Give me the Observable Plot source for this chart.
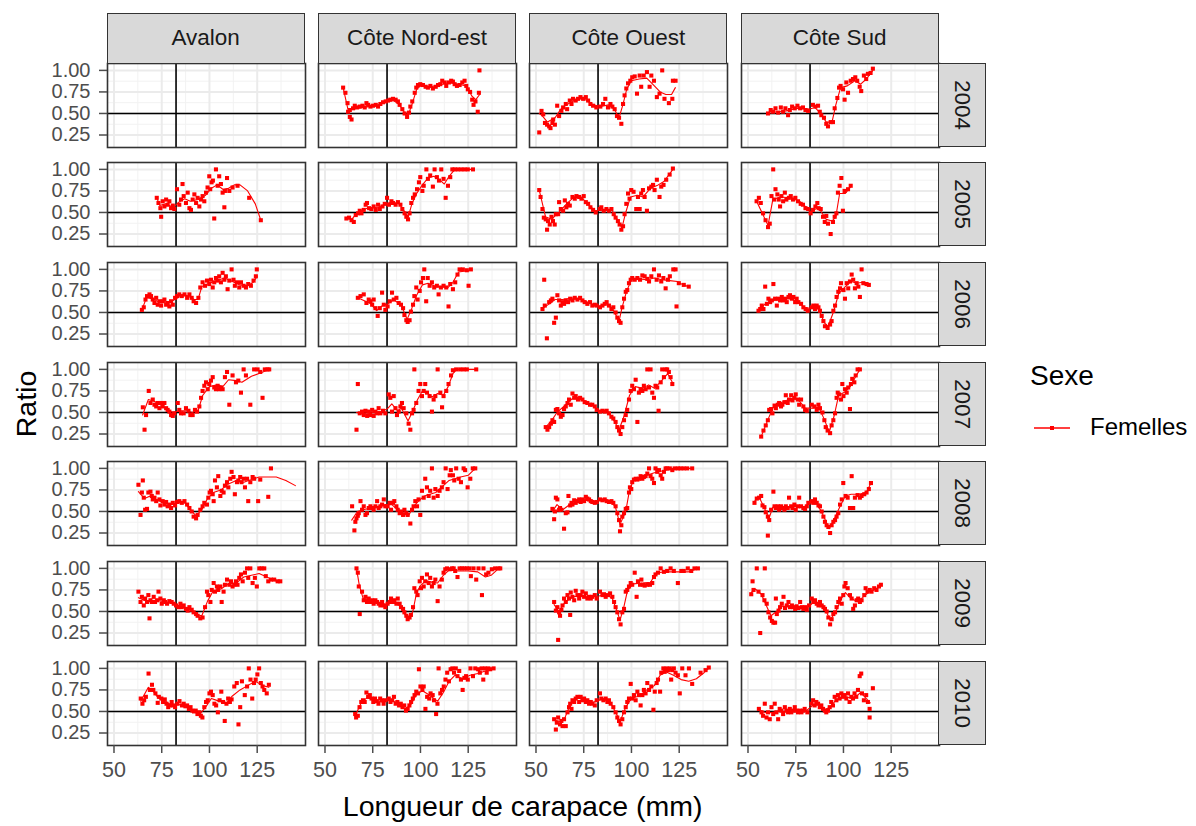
<!DOCTYPE html>
<html><head><meta charset="utf-8">
<script src="https://cdn.jsdelivr.net/npm/d3@7"></script>
<script src="https://cdn.jsdelivr.net/npm/@observablehq/plot@0.6"></script>
<style>
body{margin:0;background:#fff;font-family:"Liberation Sans",Arial,sans-serif;}
#chart{position:relative;width:1196px;height:826px;overflow:hidden;background:#fff;}
.panel{position:absolute;}
.strip{position:absolute;background:#d9d9d9;border:1.6px solid #333;box-sizing:border-box;display:flex;align-items:center;justify-content:center;color:#1a1a1a;font-size:22.5px;}
.vtext{transform:rotate(90deg);white-space:nowrap;}
.lbl{position:absolute;color:#000;white-space:nowrap;}
</style></head><body><div id="chart"></div>
<script>
const regions = ["Avalon","Côte Nord-est","Côte Ouest","Côte Sud"];
const years = [2004,2005,2006,2007,2008,2009,2010];
const xTicks = [50,75,100,125];
const yTicks = [0.25,0.5,0.75,1.0];
const xMinor = [62.5,87.5,112.5,137.5];
const yMinor = [0.375,0.625,0.875];
const refX = 82.5, refY = 0.5;
const xDomain = [46.6,150.3], yDomain = [0.105,1.08];
const seriesName = "Femelles", legendTitle = "Sexe";
const xTitle = "Longueur de carapace (mm)", yTitle = "Ratio";

// ---- Avalon ----
const av2004Pts = [], av2004Fit = [];
const av2005Pts = [[72.4,0.67],[73.3,0.61],[74.7,0.45],[74.3,0.55],[75.5,0.63],[76.4,0.57],[77.3,0.65],[78.1,0.59],[79,0.63],[79.9,0.55],[80.8,0.58],[81.6,0.54],[83,0.77],[84.2,0.59],[85.1,0.65],[85.9,0.83],[86.5,0.69],[87.7,0.61],[88.6,0.73],[89.5,0.55],[90.3,0.53],[91.2,0.65],[92.1,0.71],[93,0.61],[93.8,0.67],[94.7,0.57],[95.6,0.65],[96.4,0.69],[97.3,0.63],[98.2,0.73],[99,0.79],[99.9,0.92],[100.4,0.77],[101.1,0.85],[101.8,0.87],[102.5,0.43],[103.4,1.0],[104.3,0.81],[105.1,0.92],[106,0.83],[106.9,0.73],[107.8,0.56],[108.1,0.75],[109.2,0.9],[110.4,0.75],[112.1,0.79],[114.7,0.81],[120.8,0.67],[126.9,0.41]];
const av2005Fit = [[72.4,0.67],[74,0.58],[77,0.6],[81,0.56],[84,0.62],[87,0.66],[90,0.63],[94,0.65],[98,0.7],[101,0.78],[104,0.82],[107,0.77],[110,0.78],[113,0.82],[116,0.82],[120,0.75],[124,0.6],[126.9,0.41]];
const av2006Pts = [[64.6,0.53],[65.6,0.56],[66.5,0.65],[67.3,0.69],[68.6,0.71],[69.4,0.69],[70.3,0.65],[71.2,0.61],[72.1,0.67],[72.9,0.59],[73.8,0.63],[74.7,0.58],[75.5,0.63],[76.4,0.65],[77.3,0.59],[78.1,0.61],[79,0.57],[79.9,0.63],[80.8,0.59],[82,0.67],[83,0.69],[84.2,0.71],[85.5,0.69],[86.9,0.71],[88.3,0.67],[89.5,0.71],[90.7,0.67],[91.7,0.63],[93,0.61],[94.2,0.67],[95.2,0.79],[96.4,0.85],[97.7,0.81],[98.7,0.87],[99.9,0.83],[100.8,0.88],[101.7,0.79],[102.5,0.85],[103.4,0.9],[104.3,0.87],[105.1,0.92],[106,0.85],[106.9,0.96],[107.8,0.88],[108.6,0.92],[109.5,0.77],[110.4,0.87],[111.6,1.0],[112.6,0.88],[113.3,0.81],[114.4,0.85],[115.6,0.79],[116.5,0.85],[117.9,0.81],[119.1,0.79],[120.3,0.83],[121.7,0.81],[123.1,0.87],[124.3,0.92],[124.8,1.0]];
const av2006Fit = [[64.6,0.53],[67,0.67],[70,0.66],[74,0.62],[78,0.62],[81,0.64],[84,0.68],[88,0.7],[92,0.65],[94,0.65],[96,0.8],[100,0.84],[104,0.87],[108,0.9],[112,0.86],[116,0.82],[120,0.81],[123,0.85],[125,0.92]];
const av2007Pts = [[65.1,0.56],[66,0.3],[66.8,0.47],[68.2,0.75],[69.1,0.61],[70.3,0.65],[71.2,0.59],[72.1,0.57],[72.9,0.61],[73.8,0.55],[74.7,0.61],[75.5,0.57],[76.4,0.61],[77.3,0.55],[78.1,0.53],[79,0.51],[79.9,0.47],[80.8,0.46],[81.6,0.49],[83.4,0.61],[84.2,0.53],[85.1,0.49],[86.5,0.49],[87.7,0.55],[89,0.52],[90,0.47],[91.2,0.47],[92.4,0.53],[93.5,0.51],[94.7,0.57],[95.6,0.67],[96.4,0.75],[97.3,0.81],[98.2,0.85],[99.1,0.77],[99.9,0.83],[100.8,0.87],[101.7,0.91],[102.5,0.79],[103.4,0.77],[104.3,0.81],[105.1,0.77],[106,0.79],[106.9,0.77],[108.1,0.91],[109.2,0.97],[110.4,0.59],[112.1,0.93],[113.9,0.85],[115.1,0.87],[116.5,0.73],[117.9,1.0],[119.1,0.93],[121.4,0.59],[123.4,1.0],[125.2,1.0],[126.6,0.97],[127.8,0.67],[129,1.0],[130.4,1.0],[131.3,1.0]];
const av2007Fit = [[65,0.47],[68,0.65],[71,0.63],[75,0.58],[79,0.52],[81,0.5],[84,0.52],[88,0.52],[91,0.5],[94,0.52],[96.5,0.7],[100,0.8],[104,0.82],[107,0.8],[110,0.88],[114,0.87],[117,0.85],[122,0.92],[127,0.96],[131.3,1.0]];
const av2008Pts = [[62.8,0.81],[63.9,0.46],[65.1,0.86],[64.6,0.72],[65.6,0.66],[66.3,0.52],[67.3,0.53],[68,0.72],[69.1,0.73],[69.8,0.68],[70.3,0.64],[71.2,0.66],[72.1,0.62],[72.9,0.72],[73.8,0.64],[74.3,0.57],[75.5,0.62],[76.4,0.58],[77.3,0.61],[78.1,0.56],[79,0.58],[79.9,0.54],[80.8,0.6],[82,0.57],[83,0.61],[84.2,0.62],[85.5,0.6],[86.9,0.62],[88.3,0.58],[89.5,0.54],[90.7,0.5],[91.7,0.44],[93,0.42],[93.8,0.46],[95.2,0.52],[96.4,0.56],[97.3,0.6],[98.7,0.58],[99.4,0.66],[100.1,0.72],[100.8,0.74],[101.7,0.7],[102.2,0.62],[102.9,0.86],[103.9,0.78],[104.6,0.91],[105.7,0.68],[106.4,0.74],[107.4,0.72],[108.1,0.8],[109.2,0.84],[109.9,0.78],[110.9,0.88],[111.6,0.96],[112.6,0.9],[113.3,0.7],[114.4,0.84],[115.1,0.86],[116.1,0.9],[116.8,0.84],[117.9,0.88],[118.6,0.78],[119.7,0.88],[120.3,0.62],[121.4,0.84],[122.6,0.9],[123.4,0.88],[125.5,0.62],[126.6,0.87],[130.8,0.67],[132.2,1.0]];
const av2008Fit = [[62.8,0.73],[66,0.65],[69,0.68],[72,0.64],[76,0.6],[80,0.58],[84,0.6],[87,0.6],[90,0.52],[93,0.45],[96,0.52],[99,0.65],[102,0.72],[106,0.75],[110,0.82],[114,0.86],[118,0.84],[122,0.87],[126,0.9],[130,0.9],[135,0.9],[140,0.86],[145,0.8]];
const av2009Pts = [[62.8,0.73],[63.9,0.61],[64.6,0.67],[65.6,0.57],[66.3,0.65],[67.3,0.61],[68.6,0.42],[68,0.69],[69.1,0.63],[69.8,0.61],[70.8,0.67],[71.5,0.61],[72.6,0.63],[73.3,0.73],[74.3,0.65],[75,0.59],[76.1,0.63],[76.8,0.61],[77.8,0.59],[79,0.62],[80.2,0.61],[81.3,0.59],[82.5,0.57],[83.7,0.55],[84.8,0.59],[85.5,0.55],[86.5,0.57],[87.7,0.53],[88.6,0.51],[89.5,0.55],[90.7,0.52],[91.7,0.49],[93,0.47],[93.8,0.45],[95.2,0.42],[96.4,0.43],[97.7,0.55],[98.7,0.73],[99.4,0.69],[100.5,0.61],[101.2,0.75],[102.2,0.83],[102.9,0.73],[103.9,0.79],[104.6,0.75],[105.7,0.79],[106.4,0.61],[107.4,0.73],[108.1,0.81],[109.2,0.87],[110.4,0.81],[111.3,0.85],[112.1,0.79],[113,0.81],[113.9,0.85],[114.7,0.81],[115.6,0.89],[116.5,0.93],[117.4,0.85],[118.6,0.95],[119.7,1.0],[120.3,0.89],[121.4,1.0],[122.6,0.83],[123.8,0.89],[124.8,0.79],[126.1,1.0],[127.3,1.0],[128.7,1.0],[129.5,0.91],[130.8,0.85],[132.2,0.87],[133.9,0.87],[135.7,0.85],[137.1,0.85]];
const av2009Fit = [[62.8,0.66],[67,0.62],[72,0.63],[77,0.61],[82,0.58],[86,0.55],[90,0.52],[94,0.46],[96,0.45],[99,0.62],[102,0.74],[106,0.76],[110,0.82],[114,0.83],[118,0.9],[122,0.92],[126,0.94],[130,0.9],[134,0.86],[137.1,0.85]];
const av2010Pts = [[64,0.65],[64.9,0.59],[65.8,0.63],[66.7,0.67],[68.1,0.94],[68.8,0.75],[69.9,0.81],[70.6,0.75],[71.7,0.71],[72.9,0.6],[73.5,0.67],[74.8,0.65],[75.7,0.61],[76.6,0.64],[77.5,0.59],[78.4,0.55],[79.3,0.57],[80.2,0.61],[81.1,0.57],[82,0.55],[83.2,0.59],[84.3,0.62],[85.6,0.57],[86.5,0.59],[87.4,0.56],[88.3,0.57],[89.2,0.53],[90.1,0.55],[91,0.51],[91.9,0.5],[92.8,0.51],[93.7,0.47],[94.6,0.49],[95.5,0.45],[96.3,0.43],[97.3,0.55],[98.2,0.61],[99.1,0.63],[100,0.71],[100.8,0.73],[101.7,0.69],[102.6,0.59],[103.5,0.57],[104.4,0.49],[105.3,0.63],[106.2,0.73],[107.1,0.61],[108,0.39],[108.9,0.59],[109.8,0.65],[110.7,0.61],[111.6,0.64],[113,0.79],[114.3,0.83],[115.2,0.35],[116.1,0.55],[117,0.85],[118.5,0.69],[119.7,0.79],[120.6,1.0],[121.5,0.87],[122.4,0.65],[123.3,0.83],[124.2,0.87],[125.1,0.93],[126,1.0],[126.9,0.83],[127.8,0.79],[128.7,0.75],[130,0.71],[131.1,0.81]];
const av2010Fit = [[64,0.62],[68,0.78],[70,0.75],[73,0.66],[77,0.62],[80,0.57],[84,0.58],[88,0.56],[92,0.5],[95,0.47],[98,0.55],[101,0.65],[105,0.62],[109,0.6],[112,0.68],[116,0.75],[120,0.8],[124,0.85],[128,0.8],[131.1,0.78]];

// ---- Côte Nord-est ----
const ne2004Pts = [[59.5,0.8],[60.7,0.74],[61.8,0.62],[62.1,0.52],[63,0.46],[63.9,0.43],[63,0.54],[64.7,0.56],[65.6,0.59],[66.8,0.57],[68.2,0.58],[69.6,0.59],[70.8,0.57],[71.7,0.62],[72.6,0.6],[73.8,0.58],[75.2,0.59],[76.6,0.6],[77.8,0.58],[79,0.61],[80.4,0.63],[81.8,0.64],[83,0.65],[84.2,0.66],[85.6,0.67],[87,0.66],[88.2,0.64],[89.1,0.6],[90.5,0.55],[91.7,0.5],[93,0.46],[94,0.51],[94.7,0.58],[95.7,0.64],[97,0.74],[97.8,0.8],[98.7,0.83],[99.9,0.84],[101.3,0.83],[102.7,0.81],[103.9,0.8],[105.2,0.82],[106.5,0.79],[108,0.81],[109.2,0.83],[110.4,0.84],[111.4,0.88],[112.7,0.86],[113.5,0.82],[114.9,0.86],[116.1,0.88],[117,0.87],[117.9,0.84],[119.1,0.82],[120.5,0.83],[121.9,0.86],[123.1,0.88],[124,0.82],[124.8,0.78],[126,0.75],[127.1,0.66],[127.8,0.6],[128.8,0.64],[130,0.52],[130.9,1.0],[130.6,0.74]];
const ne2004Fit = [[59.5,0.8],[62,0.55],[64,0.55],[70,0.57],[77,0.59],[81,0.63],[86,0.65],[89,0.6],[92,0.5],[93.5,0.48],[95.5,0.6],[98,0.78],[100,0.82],[105,0.81],[110,0.83],[115,0.86],[120,0.84],[124,0.82],[127,0.7],[129,0.66],[131,0.72]];
const ne2005Pts = [[61.2,0.43],[62.6,0.44],[63.9,0.41],[65.1,0.39],[66.1,0.47],[67.3,0.49],[68.2,0.52],[69.1,0.49],[70.3,0.53],[71.3,0.59],[72,0.61],[73.1,0.55],[74.3,0.54],[75.5,0.57],[76.6,0.53],[77.8,0.59],[78.7,0.54],[80.1,0.57],[81.3,0.6],[82.5,0.67],[83.5,0.59],[84.8,0.63],[85.6,0.61],[87,0.59],[88.2,0.62],[89.5,0.59],[90.5,0.54],[91.7,0.49],[92.6,0.45],[93.5,0.42],[94.3,0.49],[95.2,0.61],[96.1,0.67],[97,0.71],[98.2,0.77],[99.2,0.85],[99.9,0.91],[101,0.75],[101.7,0.81],[103.1,1.0],[103.9,0.89],[105.1,0.93],[106.5,0.8],[107.4,1.0],[108.6,0.91],[109.7,0.87],[110.9,1.0],[112.1,0.89],[113.2,0.67],[114.4,0.81],[115.6,0.91],[116.7,1.0],[117.9,1.0],[119.6,1.0],[121.4,1.0],[123.1,1.0],[124.8,1.0],[127.5,1.0]];
const ne2005Fit = [[61,0.44],[64,0.42],[67,0.5],[72,0.55],[78,0.56],[82,0.6],[85,0.62],[89,0.6],[92,0.5],[93.5,0.44],[95.5,0.6],[98,0.72],[101,0.82],[104,0.9],[107,0.92],[110,0.88],[112.5,0.83],[115,0.92],[118,1.0],[127.5,1.0]];
const ne2006Pts = [[67.2,0.67],[68.6,0.69],[70.3,0.71],[71.7,0.61],[72.9,0.65],[73.8,0.63],[74.7,0.59],[75.5,0.65],[76.4,0.55],[77.6,0.46],[78.7,0.55],[79.9,0.73],[80.8,0.59],[81.6,0.53],[82.8,0.57],[83.9,0.63],[85.1,0.73],[86,0.65],[87.4,0.67],[88.6,0.61],[89.8,0.59],[90.9,0.55],[91.6,0.47],[92.6,0.41],[93.3,0.39],[94.3,0.41],[95,0.51],[96.1,0.59],[96.8,0.69],[97.8,0.79],[98.5,0.65],[99.6,0.75],[100.3,0.85],[101.3,0.9],[102,1.0],[103,0.63],[103.8,0.9],[104.8,0.81],[106,0.85],[107.2,0.79],[108.6,0.81],[109.5,0.71],[110.7,0.79],[112.1,0.81],[113.5,0.79],[114.7,0.57],[115.6,0.83],[117,0.77],[118.2,0.85],[119.4,0.94],[120.5,1.0],[122.2,1.0],[124.3,0.99],[125.2,0.81],[126.4,1.0]];
const ne2006Fit = [[67.2,0.67],[74,0.6],[77,0.52],[80,0.58],[83,0.6],[86,0.65],[90,0.58],[93,0.42],[95.5,0.55],[98,0.7],[101,0.82],[104,0.84],[108,0.8],[112,0.8],[114,0.78],[117,0.85],[120,0.97],[126.4,0.99]];
const ne2007Pts = [[67.2,0.83],[66.5,0.3],[68.2,0.49],[69.4,0.51],[70.3,0.47],[71.2,0.52],[72.1,0.46],[72.9,0.51],[73.8,0.47],[74.7,0.53],[75.5,0.46],[76.4,0.51],[77.3,0.49],[78.1,0.55],[79,0.49],[80.4,0.52],[81.6,0.49],[83.4,0.71],[84.2,0.67],[85.1,0.51],[86,0.69],[86.9,0.55],[87.7,0.47],[88.6,0.51],[89.5,0.57],[90.3,0.61],[91.2,0.55],[92.6,0.49],[93.8,0.37],[94.7,0.3],[95.6,0.49],[96.4,0.53],[96.8,1.0],[97.8,0.61],[99,0.75],[99.9,0.83],[100.8,0.69],[101.7,0.75],[102.5,0.83],[103.4,0.73],[104.8,0.69],[106,0.51],[106.9,0.65],[107.8,0.69],[109,1.0],[110.4,0.73],[111.3,0.56],[112.1,0.69],[113.5,0.75],[114.7,0.83],[116,0.93],[117,0.99],[118.7,1.0],[120.8,1.0],[122.6,1.0],[124.3,1.0],[129.2,1.0]];
const ne2007Fit = [[66.5,0.5],[70,0.49],[75,0.5],[80,0.51],[83,0.55],[85,0.6],[88,0.52],[90,0.55],[93.5,0.4],[96,0.52],[98.5,0.65],[101,0.75],[104,0.72],[106,0.68],[109,0.72],[112,0.7],[114.5,0.8],[117,0.95],[119,1.0],[129.2,1.0]];
const ne2008Pts = [[65.4,0.28],[65.9,0.38],[66.5,0.42],[67.2,0.45],[64.2,0.56],[67.7,0.48],[68.6,0.62],[69.4,0.52],[70.3,0.56],[71.2,0.46],[72,0.48],[72.9,0.54],[73.8,0.56],[74.7,0.54],[75.5,0.52],[76.4,0.56],[77.3,0.62],[78.1,0.54],[79,0.56],[79.9,0.58],[80.8,0.64],[81.6,0.56],[82.8,0.56],[83.9,0.6],[84.6,0.52],[85.6,0.6],[86.3,0.62],[87.4,0.56],[88.1,0.52],[89.1,0.48],[89.8,0.5],[90.9,0.46],[91.6,0.52],[92.6,0.48],[93.3,0.46],[94.7,0.36],[95.6,0.52],[96.4,0.56],[97.3,0.62],[98.2,0.56],[99,0.64],[99.9,0.46],[100.8,0.74],[101.7,0.66],[102.5,0.88],[103.4,0.78],[104.3,0.68],[105.1,0.74],[106,1.0],[106.9,0.66],[107.8,0.76],[109,0.68],[110,0.74],[111.2,0.78],[112.1,0.84],[113.2,1.0],[114.2,0.76],[115.3,0.92],[115.9,0.98],[117,0.92],[117.7,0.86],[118.7,1.0],[120,0.88],[121.2,0.84],[122.6,1.0],[123.4,0.98],[124.7,0.78],[126.1,0.88],[127.4,1.0],[128.7,1.0]];
const ne2008Fit = [[64,0.4],[67,0.5],[70,0.52],[74,0.54],[78,0.56],[82,0.58],[85,0.58],[89,0.5],[92,0.48],[94,0.46],[96,0.55],[99,0.62],[102,0.68],[105,0.7],[108,0.72],[112,0.8],[115,0.86],[118,0.88],[121,0.9],[125,0.92],[128.7,1.0]];
const ne2009Pts = [[66.5,1.0],[67.2,0.95],[67.7,0.79],[68.2,0.47],[69.4,0.73],[70.3,0.63],[71.2,0.67],[72,0.61],[72.9,0.65],[73.8,0.61],[74.7,0.63],[75.5,0.59],[76.4,0.63],[77.3,0.61],[78.1,0.59],[79,0.57],[79.9,0.61],[80.8,0.57],[81.6,0.55],[82.8,0.59],[83.9,0.61],[84.6,0.65],[85.6,0.61],[86.3,0.63],[87.4,0.59],[88.1,0.65],[89.1,0.59],[89.8,0.55],[90.9,0.53],[91.6,0.49],[92.6,0.45],[93.3,0.41],[94.3,0.43],[95,0.46],[96.1,0.55],[96.8,0.77],[97.8,0.73],[98.5,0.69],[99.6,0.85],[100.3,0.77],[100.8,0.89],[101.7,0.79],[102.5,0.85],[103.4,0.93],[104.3,0.83],[105.1,0.89],[106,0.79],[106.9,0.83],[107.8,0.87],[109,0.62],[110,0.79],[111.2,0.87],[112.1,0.95],[113,0.99],[113.9,1.0],[115.3,0.99],[116.5,1.0],[117.4,1.0],[118.2,0.97],[119.4,0.9],[120.5,1.0],[121.7,1.0],[123,1.0],[124.3,1.0],[125.7,1.0],[126.4,0.91],[127.8,1.0],[129.2,0.87],[130.4,1.0],[132.2,0.69],[133,1.0],[134.4,0.93],[135.6,0.95],[137.4,0.99],[139.1,1.0],[140.9,1.0],[141.8,1.0]];
const ne2009Fit = [[66.5,1.0],[68,0.8],[70,0.65],[74,0.62],[78,0.6],[82,0.58],[85,0.62],[88,0.6],[91,0.5],[93.5,0.4],[96,0.5],[98,0.72],[100,0.8],[103,0.86],[106,0.84],[109,0.83],[112,0.92],[115,0.98],[120,0.97],[125,0.97],[130,0.96],[134,0.9],[137,0.92],[140,0.98],[141.8,1.0]];
const ne2010Pts = [[65.8,0.47],[66.3,0.43],[67.2,0.45],[68.1,0.55],[69,0.61],[69.9,0.63],[70.8,0.61],[71.7,0.72],[72.6,0.67],[73.5,0.69],[74.4,0.65],[75.3,0.61],[76.2,0.65],[77.1,0.62],[78,0.59],[78.9,0.65],[79.8,0.63],[80.7,0.59],[81.6,0.63],[83.4,0.65],[84.3,0.61],[85.2,0.63],[86.1,0.67],[87,0.59],[87.9,0.61],[88.8,0.57],[89.7,0.59],[90.6,0.55],[91.5,0.57],[92.4,0.51],[93.3,0.53],[94.2,0.57],[95.1,0.61],[96,0.65],[96.9,0.69],[97.8,0.73],[98.7,0.71],[99.2,0.99],[100,0.79],[101,0.75],[101.7,0.79],[102.6,0.53],[103.5,0.67],[104.6,0.65],[105.3,0.71],[106.4,0.69],[107.1,0.63],[108.2,0.47],[108.9,0.59],[109.5,1.0],[110.4,0.71],[111.3,0.75],[112.2,0.79],[113.1,0.87],[114,0.95],[114.9,0.85],[115.8,0.99],[116.7,1.0],[117.6,0.95],[118.5,1.0],[119.4,0.91],[120.3,0.97],[121.2,0.87],[122.1,0.75],[123,0.89],[123.9,0.91],[124.8,0.87],[126.2,1.0],[127.5,0.91],[128.7,1.0],[130.2,0.99],[131.1,0.95],[132,1.0],[132.9,0.87],[133.8,1.0],[134.7,0.95],[135.6,1.0],[136.5,0.99],[138.3,1.0]];
const ne2010Fit = [[65.8,0.45],[69,0.6],[72,0.66],[76,0.63],[80,0.61],[84,0.63],[88,0.6],[92,0.53],[95,0.58],[98,0.7],[101,0.74],[104,0.7],[107,0.65],[109,0.62],[112,0.72],[115,0.85],[118,0.92],[122,0.88],[126,0.92],[130,0.94],[134,0.97],[138.3,1.0]];

// ---- Côte Ouest ----
const co2004Pts = [[51.7,0.28],[52.9,0.53],[53.8,0.49],[54.7,0.39],[55.8,0.37],[56.9,0.35],[57.6,0.33],[58.6,0.39],[59,0.43],[59.9,0.37],[61.1,0.59],[62.1,0.47],[63.3,0.53],[64.2,0.57],[65.6,0.61],[66.3,0.55],[67.7,0.65],[68.6,0.61],[69.4,0.67],[70.8,0.65],[72,0.67],[73.3,0.69],[74.7,0.67],[76.1,0.69],[77.3,0.65],[78.5,0.61],[79.9,0.59],[81.6,0.57],[83.7,0.58],[85.1,0.61],[86.3,0.67],[87.7,0.57],[89,0.61],[90,0.58],[91.2,0.55],[92.4,0.47],[93.5,0.45],[94.7,0.38],[95.6,0.61],[96.4,0.71],[97.3,0.79],[98.2,0.85],[99.4,0.88],[100.4,0.92],[101.7,0.93],[102.9,0.73],[104.3,0.94],[105.1,0.81],[106.4,0.94],[108.1,0.98],[109.5,0.81],[110.4,0.94],[111.8,0.88],[113.3,0.69],[114.7,0.73],[116.1,1.0],[117.3,0.67],[119.6,0.62],[121.4,0.67],[121.7,0.88],[123.1,0.88]];
const co2004Fit = [[51.7,0.5],[53,0.48],[56,0.4],[60,0.45],[63,0.55],[66,0.6],[72,0.67],[76,0.66],[80,0.6],[84,0.58],[88,0.6],[91,0.55],[93.5,0.45],[95.5,0.6],[97.5,0.78],[100,0.88],[104,0.9],[108,0.91],[112,0.82],[115,0.75],[118,0.72],[121,0.72],[123,0.8]];
const co2005Pts = [[51.7,0.76],[52.4,0.68],[53.4,0.54],[54.1,0.44],[55.1,0.42],[55.8,0.3],[56.3,0.4],[57.2,0.36],[58.1,0.45],[58.9,0.4],[59.8,0.36],[60.4,0.48],[61.6,0.48],[62.1,0.62],[63,0.54],[64.2,0.52],[65.1,0.64],[65.9,0.56],[66.8,0.6],[67.7,0.58],[69.1,0.68],[70.3,0.66],[71.2,0.69],[72.6,0.68],[73.8,0.66],[75,0.69],[76.1,0.62],[77.3,0.6],[78.5,0.56],[79.9,0.53],[81.3,0.5],[83.4,0.54],[84.2,0.56],[85.5,0.52],[86.9,0.54],[88.2,0.52],[89.5,0.54],[90.7,0.48],[91.7,0.44],[92.9,0.4],[93.8,0.36],[94.7,0.3],[95.6,0.34],[96.4,0.48],[97.3,0.6],[98.2,0.72],[99,0.66],[99.9,0.76],[101.1,0.74],[102.5,0.54],[103.4,0.68],[104.3,0.54],[105.1,0.72],[106,0.76],[106.9,0.68],[108.1,0.52],[109.2,0.78],[110.4,0.8],[111.3,0.82],[112.1,0.76],[113.3,0.88],[114.7,0.68],[115.6,0.8],[116.8,0.82],[118.2,0.88],[120,0.94],[121.7,1.01]];
const co2005Fit = [[51.7,0.76],[55,0.45],[58,0.42],[62,0.5],[66,0.6],[70,0.68],[74,0.67],[78,0.58],[81,0.52],[86,0.53],[90,0.52],[93,0.4],[95,0.32],[97,0.5],[99.5,0.68],[103,0.7],[106,0.68],[110,0.78],[114,0.82],[117,0.86],[121.7,1.0]];
const co2006Pts = [[54.3,0.88],[53.4,0.54],[54.6,0.58],[55.7,0.2],[56.9,0.62],[57.8,0.64],[58.6,0.66],[59.5,0.38],[60.4,0.44],[61.2,0.7],[62.1,0.64],[63,0.58],[63.9,0.62],[64.7,0.6],[65.6,0.64],[66.8,0.62],[67.9,0.66],[69.1,0.64],[70.3,0.67],[71.7,0.65],[73.1,0.67],[74.3,0.64],[75.5,0.62],[76.9,0.6],[78.3,0.62],[79.5,0.58],[80.8,0.59],[81.8,0.58],[83.5,0.56],[84.8,0.58],[86,0.6],[87,0.62],[88.2,0.58],[89.5,0.54],[90.5,0.56],[91.7,0.5],[92.6,0.44],[93.5,0.4],[94.3,0.38],[95.2,0.56],[96.1,0.66],[97,0.74],[97.8,0.76],[98.7,0.84],[99.6,0.88],[100.4,0.9],[101.7,0.88],[103.1,0.9],[104.5,0.88],[105.7,0.93],[106.9,0.92],[108.3,0.89],[109.2,0.86],[110.4,0.92],[111.8,1.0],[113.2,0.88],[114.4,0.93],[115.6,0.86],[116.7,0.9],[117.9,0.78],[119.1,0.88],[120.1,0.92],[121.9,1.0],[123.1,1.0],[123.6,0.57],[124.8,0.84],[127.4,0.82],[130,0.8]];
const co2006Fit = [[53.4,0.55],[57,0.6],[60,0.65],[64,0.65],[70,0.67],[75,0.64],[79,0.6],[83,0.57],[87,0.6],[90,0.55],[93.5,0.4],[95,0.55],[97.5,0.75],[100,0.88],[104,0.89],[108,0.88],[112,0.9],[116,0.88],[120,0.87],[124,0.86],[127,0.82],[130,0.8]];
const co2007Pts = [[55.1,0.33],[56,0.3],[56.9,0.33],[57.8,0.37],[58.6,0.41],[59.5,0.39],[60.4,0.53],[61.2,0.54],[62.1,0.49],[63,0.45],[63.9,0.47],[64.7,0.54],[65.6,0.57],[66.5,0.61],[67.3,0.65],[68.2,0.59],[69.1,0.72],[70,0.67],[70.8,0.69],[72,0.65],[73.1,0.67],[74.3,0.65],[75.5,0.62],[76.9,0.61],[78.3,0.59],[79.5,0.59],[80.8,0.57],[81.8,0.53],[83.5,0.51],[84.8,0.52],[86,0.51],[87,0.52],[88.2,0.49],[89.5,0.45],[90.5,0.43],[91.7,0.39],[92.6,0.33],[93.5,0.29],[94.3,0.25],[95.2,0.33],[96.1,0.41],[97,0.47],[97.8,0.53],[98.7,0.65],[99.6,0.75],[100.4,0.81],[101.3,0.77],[102.2,0.88],[103.1,0.39],[103.9,0.73],[104.8,0.77],[105.7,0.75],[106.5,0.81],[107.4,0.77],[108.3,1.0],[109.2,0.79],[110,1.0],[110.9,0.73],[111.8,0.67],[112.6,0.81],[113.5,0.79],[114.2,0.52],[115.3,0.85],[116.1,1.0],[117,0.91],[117.9,1.0],[118.7,1.0],[119.6,0.97],[120.5,0.91],[121.4,0.83]];
const co2007Fit = [[55.1,0.33],[58,0.4],[61,0.5],[65,0.58],[69,0.66],[71,0.68],[75,0.64],[80,0.58],[83,0.52],[87,0.52],[90,0.44],[93.5,0.3],[96,0.45],[99,0.7],[102,0.8],[106,0.78],[109,0.82],[112,0.78],[115,0.85],[119,0.95],[121.4,0.85]];
const co2008Pts = [[58.6,0.53],[59.5,0.41],[59.9,0.5],[60.4,0.66],[61.2,0.64],[62.1,0.52],[62.6,0.54],[63.3,0.52],[64.7,0.3],[65.6,0.48],[66.5,0.49],[67,0.68],[67.9,0.57],[68.6,0.6],[69.1,0.58],[70,0.63],[70.8,0.6],[71.7,0.62],[72.6,0.64],[73.4,0.61],[74.3,0.64],[75.2,0.62],[76.1,0.67],[76.9,0.65],[77.8,0.64],[78.7,0.62],[79.5,0.61],[80.8,0.6],[81.8,0.61],[83.5,0.64],[84.8,0.63],[86,0.64],[87,0.62],[88.2,0.61],[89.5,0.62],[90.5,0.6],[91.7,0.56],[92.6,0.48],[93.5,0.4],[94,0.27],[94.7,0.34],[95.2,0.44],[96.1,0.48],[97,0.53],[97.8,0.54],[98.7,0.72],[99.2,0.78],[99.9,0.76],[100.4,0.84],[101.3,0.87],[102.2,0.88],[103.1,0.87],[103.9,0.88],[104.8,0.91],[105.7,0.88],[106.5,0.9],[107.4,0.91],[108.3,0.94],[109.2,1.0],[110,0.91],[110.9,0.88],[111.8,0.83],[112.6,1.0],[113.5,0.96],[114.4,0.98],[115.3,0.92],[116.1,0.88],[117,0.96],[117.9,1.0],[118.7,1.0],[120.1,1.0],[121.4,0.98],[122.6,1.0],[124.3,1.0],[125.7,1.0],[127.4,1.0],[129.2,1.0],[131.8,1.0]];
const co2008Fit = [[58.6,0.5],[61,0.58],[64,0.52],[67,0.57],[70,0.6],[75,0.63],[80,0.62],[85,0.63],[89,0.61],[91.5,0.56],[94,0.35],[97,0.5],[99,0.75],[101,0.86],[105,0.89],[108,0.92],[112,0.95],[116,0.97],[120,0.99],[125,1.0],[131.8,1.0]];
const co2009Pts = [[59.5,0.61],[60.4,0.51],[61.6,0.17],[61.2,0.55],[62.1,0.49],[62.6,0.45],[63.3,0.52],[63.9,0.57],[64.7,0.65],[65.6,0.61],[66.5,0.69],[67.3,0.65],[67.9,0.46],[68.2,0.72],[69.1,0.67],[70,0.63],[70.8,0.74],[71.7,0.69],[72.6,0.65],[73.4,0.69],[74.3,0.73],[75.2,0.67],[76.1,0.71],[76.9,0.65],[77.8,0.67],[78.7,0.65],[79.5,0.67],[80.8,0.69],[81.8,0.65],[83.5,0.73],[84.8,0.69],[85.6,0.7],[86.5,0.67],[87.7,0.69],[88.8,0.71],[90,0.67],[90.9,0.61],[91.7,0.55],[92.6,0.49],[93.5,0.41],[94.3,0.35],[95.2,0.49],[96.1,0.53],[97,0.73],[97.8,0.75],[98.7,0.79],[99.6,0.83],[100.4,0.81],[101.7,0.95],[102.7,0.67],[103.4,0.85],[104.5,0.81],[105.2,0.87],[106.2,0.81],[106.9,0.8],[108.3,0.81],[109.7,0.81],[110.9,0.83],[111.8,0.9],[112.6,0.93],[113.9,0.95],[115.3,1.0],[117,0.96],[118.7,0.97],[120.5,1.0],[122.2,0.97],[124.3,0.83],[126.1,0.97],[127.4,0.97],[129.5,1.0],[131.3,0.97],[133,1.0],[134.8,1.0]];
const co2009Fit = [[59.5,0.58],[62,0.5],[65,0.6],[69,0.67],[74,0.68],[79,0.67],[83,0.68],[87,0.7],[90,0.65],[92.5,0.5],[94,0.4],[96,0.55],[98,0.75],[101,0.82],[106,0.83],[110,0.84],[113,0.95],[118,0.96],[125,0.96],[130,0.96],[134.8,1.0]];
const co2010Pts = [[59.5,0.41],[60.4,0.29],[60.9,0.37],[61.6,0.43],[62.6,0.35],[63.3,0.39],[63.9,0.33],[64.7,0.41],[65.6,0.33],[66.5,0.49],[67.3,0.55],[67.9,0.59],[68.6,0.53],[69.1,0.63],[70,0.61],[70.8,0.65],[71.7,0.67],[72.6,0.61],[73.4,0.67],[74.3,0.63],[75.2,0.65],[76.1,0.61],[76.9,0.63],[77.8,0.59],[78.7,0.61],[79.5,0.59],[80.8,0.57],[81.8,0.63],[83.5,0.71],[84.2,0.65],[85.3,0.63],[86.5,0.65],[87.4,0.61],[88.2,0.63],[89.1,0.59],[90.5,0.55],[91.7,0.49],[92.6,0.43],[93.5,0.39],[94.3,0.35],[95.2,0.41],[96.1,0.49],[97,0.55],[97.8,0.61],[98.7,0.65],[99.6,0.82],[100.4,0.65],[101.3,0.69],[102.2,0.63],[103.1,0.73],[103.9,0.69],[104.8,0.57],[105.7,0.69],[106.5,0.75],[107.4,0.71],[108.3,0.83],[109.2,0.75],[110.4,0.79],[111.5,0.52],[112.2,0.73],[113.2,0.83],[113.9,0.87],[115,0.73],[115.6,0.95],[116.7,1.0],[117.4,0.96],[118.4,1.0],[119.1,0.98],[120.1,1.0],[120.8,0.87],[121.3,0.98],[122.2,1.0],[123.1,0.95],[124.3,0.92],[125.3,0.71],[126.6,1.0],[128.3,0.92],[130.1,1.0],[131.8,0.82],[136.2,0.95],[138.8,0.98],[140.5,1.01]];
const co2010Fit = [[59.5,0.4],[63,0.38],[65,0.42],[68,0.58],[71,0.65],[75,0.65],[79,0.6],[82,0.62],[85,0.65],[89,0.6],[92,0.48],[94,0.38],[97,0.55],[100,0.65],[104,0.68],[108,0.75],[112,0.8],[115,0.92],[118,0.96],[122,0.92],[126,0.87],[130,0.85],[134,0.88],[138,0.95],[140.5,1.0]];

// ---- Côte Sud ----
const cs2004Pts = [[60.5,0.5],[61.9,0.54],[63.2,0.52],[64.4,0.56],[65.8,0.51],[67.2,0.57],[68.4,0.52],[69.6,0.56],[71,0.48],[71.9,0.54],[73.1,0.58],[74.5,0.56],[75.9,0.59],[77.3,0.56],[78.8,0.57],[80.1,0.54],[81.5,0.53],[84,0.6],[85.3,0.58],[86.7,0.59],[87.6,0.52],[88.4,0.48],[89.8,0.45],[91,0.38],[91.9,0.35],[93.3,0.4],[94.5,0.4],[95.4,0.56],[96.8,0.68],[97.7,0.8],[98.5,0.82],[99.8,0.78],[100.6,0.66],[101.5,0.86],[102.4,0.74],[103.8,0.88],[105,0.9],[106.2,0.92],[107.2,0.88],[108.5,0.81],[109.3,0.76],[110.7,0.94],[111.9,0.9],[112.8,0.96],[114.2,0.97],[115.4,1.02]];
const cs2004Fit = [[60.5,0.5],[65,0.52],[70,0.53],[76,0.56],[82,0.55],[85,0.57],[88,0.5],[91,0.4],[94,0.4],[96,0.6],[98.5,0.8],[102,0.82],[106,0.88],[109,0.84],[112,0.9],[115.4,1.0]];
const cs2005Pts = [[54.5,0.63],[55.7,0.67],[56.7,0.61],[57.9,0.49],[59.2,0.41],[60.5,0.33],[61.4,0.37],[62.3,0.69],[63.2,1.0],[63.7,0.65],[64.4,0.77],[65.4,0.71],[66.1,0.65],[66.8,0.57],[67.5,0.69],[68.4,0.63],[69.3,0.73],[70.1,0.65],[71.4,0.67],[72.4,0.69],[73.6,0.65],[74.8,0.67],[76.2,0.63],[77.6,0.6],[78.8,0.59],[80.1,0.55],[81.5,0.54],[82.8,0.49],[84,0.53],[85.3,0.57],[86.3,0.61],[87,0.55],[88.1,0.54],[89.3,0.45],[90.2,0.39],[91,0.46],[91.9,0.37],[93.3,0.25],[94.5,0.39],[95.4,0.45],[96.3,0.49],[97.1,0.73],[98,0.81],[98.9,0.9],[99.7,0.52],[100.6,0.75],[102.4,0.77],[103.8,0.81]];
const cs2005Fit = [[54.5,0.63],[59,0.42],[60.5,0.35],[63,0.65],[67,0.68],[72,0.67],[77,0.63],[81,0.55],[83,0.5],[86,0.55],[88,0.52],[91,0.42],[94,0.4],[96,0.45],[98,0.72],[101,0.72],[103.8,0.8]];
const cs2006Pts = [[55.5,0.52],[56.4,0.54],[57.2,0.58],[58.1,0.54],[59,0.8],[59.9,0.6],[60.7,0.66],[61.6,0.62],[62.5,0.64],[63.3,0.83],[64.2,0.66],[65.1,0.58],[65.9,0.66],[66.8,0.64],[67.7,0.68],[68.6,0.64],[69.4,0.66],[70.3,0.62],[71.2,0.68],[72,0.7],[73,0.66],[73.8,0.68],[74.7,0.62],[75.5,0.66],[76.4,0.62],[77.8,0.6],[79,0.56],[80.2,0.54],[81.3,0.52],[83.4,0.56],[84.2,0.58],[85.1,0.54],[86,0.58],[86.9,0.56],[87.7,0.52],[88.6,0.46],[89.5,0.4],[90.3,0.34],[91.7,0.32],[93,0.36],[93.8,0.4],[94.7,0.52],[95.6,0.58],[96.4,0.68],[97.3,0.74],[98.2,0.78],[98.7,0.84],[100,0.76],[100.8,0.66],[101.7,0.84],[102.5,0.78],[103.4,0.86],[104.3,0.94],[105.1,0.88],[106,0.78],[106.9,0.84],[107.8,0.8],[108.6,0.68],[109.5,1.0],[110.4,0.84],[112.1,0.83],[113.3,0.82]];
const cs2006Fit = [[55.5,0.52],[59,0.6],[63,0.64],[68,0.65],[72,0.66],[76,0.63],[80,0.55],[84,0.55],[87,0.54],[90,0.38],[92,0.34],[95,0.52],[97.5,0.72],[101,0.8],[104,0.86],[107,0.84],[110,0.85],[113.3,0.82]];
const cs2007Pts = [[56.9,0.22],[58.1,0.29],[59.3,0.35],[60.4,0.41],[61.1,0.53],[62.1,0.54],[62.8,0.49],[63.9,0.58],[64.6,0.55],[65.6,0.59],[66.3,0.61],[67.3,0.57],[68,0.59],[69.1,0.62],[69.8,0.7],[70.8,0.61],[71.5,0.65],[72.6,0.7],[73.3,0.64],[74.3,0.67],[75,0.71],[76.1,0.65],[76.8,0.59],[77.8,0.65],[79,0.57],[79.9,0.53],[80.8,0.52],[83.4,0.59],[84.8,0.57],[86,0.53],[86.9,0.59],[87.7,0.55],[89,0.5],[90,0.41],[90.7,0.33],[91.7,0.29],[93,0.26],[93.8,0.35],[94.7,0.41],[95.6,0.49],[96.4,0.67],[97,0.73],[97.7,0.71],[98.7,0.65],[99.4,0.83],[100,0.69],[100.8,0.77],[101.7,0.73],[102.5,0.79],[103.4,0.54],[103.9,0.83],[104.6,0.89],[105.7,0.85],[106.4,0.93],[107.4,1.0],[108.6,1.0]];
const cs2007Fit = [[56.9,0.22],[60.5,0.42],[63,0.55],[66,0.6],[70,0.64],[74,0.67],[77,0.63],[80,0.55],[84,0.55],[87,0.56],[90,0.42],[92.5,0.27],[95,0.45],[97.5,0.7],[101,0.74],[103.5,0.8],[106,0.9],[108.6,1.0]];
const cs2008Pts = [[53.4,0.6],[54.6,0.65],[55.8,0.66],[56.9,0.68],[57.6,0.57],[58.6,0.55],[59.3,0.49],[60.4,0.44],[60.4,0.22],[61.1,0.4],[62.1,0.52],[63.3,0.73],[63.9,0.56],[64.6,0.54],[65.6,0.56],[66.3,0.52],[67.3,0.56],[68,0.54],[69.1,0.52],[69.8,0.56],[70.8,0.54],[71.5,0.66],[72.6,0.56],[73.3,0.54],[74.3,0.58],[75,0.52],[76.1,0.56],[76.8,0.66],[77.8,0.56],[79,0.54],[79.9,0.53],[80.8,0.56],[81.6,0.6],[83.4,0.62],[84.2,0.6],[85.1,0.64],[86,0.6],[86.9,0.57],[87.7,0.56],[88.6,0.5],[89.5,0.44],[90.3,0.38],[91.2,0.34],[92.1,0.32],[93,0.25],[93.8,0.34],[94.7,0.38],[95.6,0.4],[96.4,0.44],[97.3,0.48],[98.2,0.58],[99.1,0.64],[99.9,0.83],[101.1,0.68],[102.2,0.66],[103.4,0.54],[104.3,0.91],[105.1,0.54],[106,0.66],[107.4,0.69],[108.6,0.66],[109.5,0.68],[110.9,0.7],[112.1,0.72],[113.3,0.76],[114.4,0.83]];
const cs2008Fit = [[53.4,0.62],[56,0.66],[59,0.52],[61,0.42],[63,0.55],[68,0.55],[74,0.56],[79,0.55],[83,0.6],[86,0.6],[89.5,0.45],[92.5,0.3],[95,0.4],[98,0.55],[101,0.68],[104,0.7],[108,0.7],[112,0.72],[114.4,0.83]];
const cs2009Pts = [[54.6,1.0],[58.8,1.0],[52.4,0.85],[51.7,0.7],[52.9,0.75],[55.5,0.73],[56.4,0.25],[57.6,0.69],[58.6,0.63],[59.8,0.59],[60.7,0.49],[61.6,0.43],[62.5,0.39],[63.3,0.37],[64.2,0.37],[64.6,0.65],[65.1,0.47],[66,0.51],[66.8,0.55],[67.7,0.59],[68.6,0.67],[69.4,0.54],[70.3,0.57],[71.2,0.61],[72,0.55],[73,0.57],[73.8,0.55],[74.7,0.53],[75.5,0.56],[76.4,0.54],[77.3,0.61],[78.1,0.55],[79,0.53],[79.9,0.55],[80.8,0.52],[82,0.57],[83.4,0.65],[84.2,0.61],[85.1,0.63],[86,0.59],[86.9,0.57],[87.7,0.61],[88.6,0.57],[89.5,0.55],[90.3,0.53],[91.2,0.5],[92.1,0.43],[93,0.35],[93.8,0.41],[94.7,0.47],[95.6,0.49],[96.4,0.55],[97.3,0.61],[98.2,0.65],[99.1,0.59],[99.9,0.69],[100.5,0.79],[101.1,0.83],[102.2,0.77],[103.4,0.69],[104.3,0.65],[105.1,0.53],[106,0.57],[106.9,0.63],[107.7,0.65],[108.6,0.61],[109.5,0.63],[110.9,0.69],[111.6,0.77],[112.6,0.73],[113.8,0.75],[114.7,0.73],[116.1,0.77],[117.3,0.75],[118.6,0.79],[119.6,0.81]];
const cs2009Fit = [[51.7,0.72],[54,0.76],[57,0.7],[60,0.55],[62,0.45],[65,0.5],[68,0.56],[72,0.56],[77,0.55],[81,0.54],[84,0.6],[88,0.58],[91,0.5],[93,0.4],[96,0.5],[99,0.65],[101,0.72],[104,0.65],[107,0.62],[110,0.66],[113,0.72],[116,0.75],[119.6,0.8]];
const cs2010Pts = [[55.7,0.53],[57.1,0.49],[57.9,0.45],[58.8,0.59],[59.7,0.43],[60.5,0.49],[61.4,0.41],[62.3,0.55],[63.2,0.47],[64,0.59],[64.9,0.49],[65.8,0.41],[66.6,0.53],[67.5,0.51],[68.4,0.47],[69.3,0.55],[70.1,0.51],[71,0.49],[71.9,0.53],[72.7,0.49],[73.6,0.51],[74.5,0.55],[75.4,0.51],[76.2,0.49],[77.1,0.51],[78,0.49],[78.8,0.51],[79.7,0.53],[81.1,0.49],[83.2,0.59],[84.1,0.63],[84.9,0.57],[85.8,0.61],[86.7,0.59],[87.6,0.55],[88.4,0.57],[89.3,0.53],[90.2,0.51],[91,0.49],[91.9,0.51],[92.8,0.55],[93.6,0.61],[94.5,0.57],[95.4,0.67],[96.3,0.63],[97.1,0.69],[98,0.65],[98.9,0.71],[99.7,0.67],[100.6,0.69],[101.5,0.65],[102.4,0.71],[103.2,0.61],[104.1,0.67],[105,0.65],[105.8,0.71],[106.7,0.67],[107.6,0.75],[108.5,0.91],[109.3,0.94],[109.7,0.71],[110.7,0.63],[111.9,0.69],[112.8,0.61],[113.7,0.43],[113.7,0.53],[115.4,0.77]];
const cs2010Fit = [[55.7,0.52],[60,0.48],[65,0.5],[70,0.5],[75,0.51],[80,0.5],[84,0.57],[87,0.58],[90,0.52],[93,0.55],[96,0.63],[100,0.67],[104,0.66],[107,0.68],[109,0.72],[112,0.65],[114,0.6]];

// table of panels (region x year) built from the named arrays
const ptsByRegion = [
  [av2004Pts,av2005Pts,av2006Pts,av2007Pts,av2008Pts,av2009Pts,av2010Pts],
  [ne2004Pts,ne2005Pts,ne2006Pts,ne2007Pts,ne2008Pts,ne2009Pts,ne2010Pts],
  [co2004Pts,co2005Pts,co2006Pts,co2007Pts,co2008Pts,co2009Pts,co2010Pts],
  [cs2004Pts,cs2005Pts,cs2006Pts,cs2007Pts,cs2008Pts,cs2009Pts,cs2010Pts]];
const fitByRegion = [
  [av2004Fit,av2005Fit,av2006Fit,av2007Fit,av2008Fit,av2009Fit,av2010Fit],
  [ne2004Fit,ne2005Fit,ne2006Fit,ne2007Fit,ne2008Fit,ne2009Fit,ne2010Fit],
  [co2004Fit,co2005Fit,co2006Fit,co2007Fit,co2008Fit,co2009Fit,co2010Fit],
  [cs2004Fit,cs2005Fit,cs2006Fit,cs2007Fit,cs2008Fit,cs2009Fit,cs2010Fit]];

// layout
const L0 = 106.7, PW = 198, PH = 84, CP = 211.3, T0 = 62.7, RP = 99.67, STRIP = 48, TOPSTRIP = 51;
const chart = document.getElementById("chart");
const FONT = "'Liberation Sans', Arial, sans-serif";
const RED = "#ff0000";

function addDiv(cls, css, html) {
  const d = document.createElement("div");
  d.className = cls; Object.assign(d.style, css); if (html != null) d.innerHTML = html;
  chart.appendChild(d); return d;
}

years.forEach((yr, r) => {
  regions.forEach((reg, c) => {
    const first = c === 0, last = r === years.length - 1;
    const ml = first ? 107 : 0, mb = last ? 52 : 0;
    const pts = ptsByRegion[c][r], fit = fitByRegion[c][r];
    const marks = [
      Plot.gridX(xMinor, {stroke: "#f2f2f2", strokeOpacity: 1, strokeWidth: 1}),
      Plot.gridY(yMinor, {stroke: "#f2f2f2", strokeOpacity: 1, strokeWidth: 1}),
      Plot.gridX(xTicks, {stroke: "#ebebeb", strokeOpacity: 1, strokeWidth: 2}),
      Plot.gridY(yTicks, {stroke: "#ebebeb", strokeOpacity: 1, strokeWidth: 2}),
      Plot.ruleX([refX], {stroke: "#000", strokeWidth: 1.6}),
      Plot.ruleY([refY], {stroke: "#000", strokeWidth: 1.6}),
      Plot.line(fit, {x: d => d[0], y: d => d[1], stroke: RED, strokeWidth: 1.1}),
      Plot.dot(pts, {x: d => d[0], y: d => d[1], r: 2.3, symbol: "square", fill: RED, stroke: "none"}),
      Plot.frame({stroke: "#333", strokeWidth: 1.6})
    ];
    if (first) marks.push(Plot.axisY(yTicks, {tickFormat: d3.format(".2f"), tickSize: 8, tickPadding: 9, fontSize: 20, color: "#4d4d4d", strokeWidth: 1.5, label: null}));
    if (last) marks.push(Plot.axisX(xTicks, {tickSize: 8, tickPadding: 8, fontSize: 21.5, color: "#4d4d4d", strokeWidth: 1.5, label: null}));
    const p = Plot.plot({
      width: PW + ml, height: PH + mb,
      marginLeft: ml, marginRight: 0, marginTop: 0, marginBottom: mb,
      style: {background: "transparent", overflow: "visible", fontFamily: FONT},
      x: {domain: xDomain, axis: null},
      y: {domain: yDomain, axis: null},
      marks
    });
    const holder = addDiv("panel", {left: (L0 + c * CP - ml) + "px", top: (T0 + r * RP) + "px"});
    holder.appendChild(p);
  });
  // right strip (year)
  addDiv("strip", {left: (L0 + 3 * CP + PW - 0.8) + "px", top: (T0 + r * RP) + "px", width: STRIP + "px", height: PH + "px"},
    `<span class="vtext">${yr}</span>`);
});
regions.forEach((reg, c) => {
  addDiv("strip", {left: (L0 + c * CP) + "px", top: (T0 - TOPSTRIP + 0.8) + "px", width: PW + "px", height: TOPSTRIP + "px"}, reg);
});

// axis titles
addDiv("lbl", {left: (L0 + (3 * CP + PW) / 2) + "px", top: "790px", transform: "translateX(-50%)", fontSize: "28.5px"}, xTitle);
addDiv("lbl", {left: "26px", top: "404px", transform: "translate(-50%,-50%) rotate(-90deg)", fontSize: "28.5px"}, yTitle);

// legend
addDiv("lbl", {left: "1030px", top: "360px", fontSize: "28px"}, legendTitle);
addDiv("lbl", {left: "1033px", top: "418px"},
  `<svg width="38" height="20"><line x1="1" x2="37" y1="10" y2="10" stroke="${RED}" stroke-width="1.3"/><rect x="17" y="8" width="4" height="4" fill="${RED}"/></svg>`);
addDiv("lbl", {left: "1090px", top: "413px", fontSize: "24px", color: "#000"}, seriesName);
</script></body></html>
